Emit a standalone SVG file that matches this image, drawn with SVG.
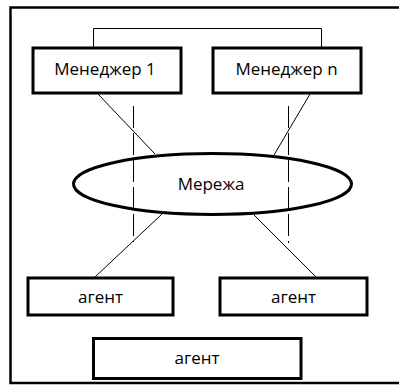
<svg xmlns="http://www.w3.org/2000/svg" width="399" height="385" viewBox="0 0 399 385">
  <style>
    .box { fill: #ffffff; stroke: #000000; stroke-width: 3; }
    .net { fill: none; stroke: #000000; stroke-width: 3; }
    .frame { fill: none; stroke: #000000; stroke-width: 2.5; }
    .link { fill: none; stroke: #000000; stroke-width: 1; }
    .dash { fill: none; stroke: #000000; stroke-width: 1; stroke-dasharray: 22 5; }
    .label { font-family: "Open Sans", "Noto Sans", "Liberation Sans", sans-serif; font-size: 17px; fill: #000000; text-anchor: middle; }
  </style>
  <rect width="399" height="385" fill="#ffffff"/>
  <!-- outer frame, running past the right edge -->
  <rect class="frame" x="10.5" y="7.5" width="400" height="375.5"/>

  <g id="connectors">
    <polyline class="link" points="93.5,47 93.5,28.5 321.5,28.5 321.5,47"/>
    <line class="link" x1="98" y1="94" x2="155" y2="154"/>
    <line class="link" x1="310" y1="94" x2="274" y2="155"/>
    <line class="link" x1="162" y1="214" x2="95" y2="277"/>
    <line class="link" x1="254" y1="215" x2="316" y2="277"/>
    <line class="dash" x1="133.5" y1="106" x2="133.5" y2="242"/>
    <line class="dash" x1="288.5" y1="106" x2="288.5" y2="243"/>
  </g>

  <g id="manager-1">
    <rect class="box" x="33" y="48" width="148" height="45"/>
    <text class="label" x="105" y="74.5">Менеджер 1</text>
  </g>
  <g id="manager-n">
    <rect class="box" x="213" y="48" width="148" height="45"/>
    <text class="label" x="286.5" y="74.5">Менеджер n</text>
  </g>
  <g id="network">
    <ellipse class="net" cx="212.5" cy="184" rx="139" ry="30.5"/>
    <text class="label" x="211" y="190">Мережа</text>
  </g>
  <g id="agent-1">
    <rect class="box" x="28" y="278" width="145" height="37"/>
    <text class="label" x="100.5" y="302.5">агент</text>
  </g>
  <g id="agent-2">
    <rect class="box" x="220" y="278" width="147" height="37"/>
    <text class="label" x="293.5" y="302.5">агент</text>
  </g>
  <g id="agent-3">
    <rect class="box" x="93.5" y="338.5" width="207.5" height="40"/>
    <text class="label" x="197" y="364">агент</text>
  </g>
</svg>
